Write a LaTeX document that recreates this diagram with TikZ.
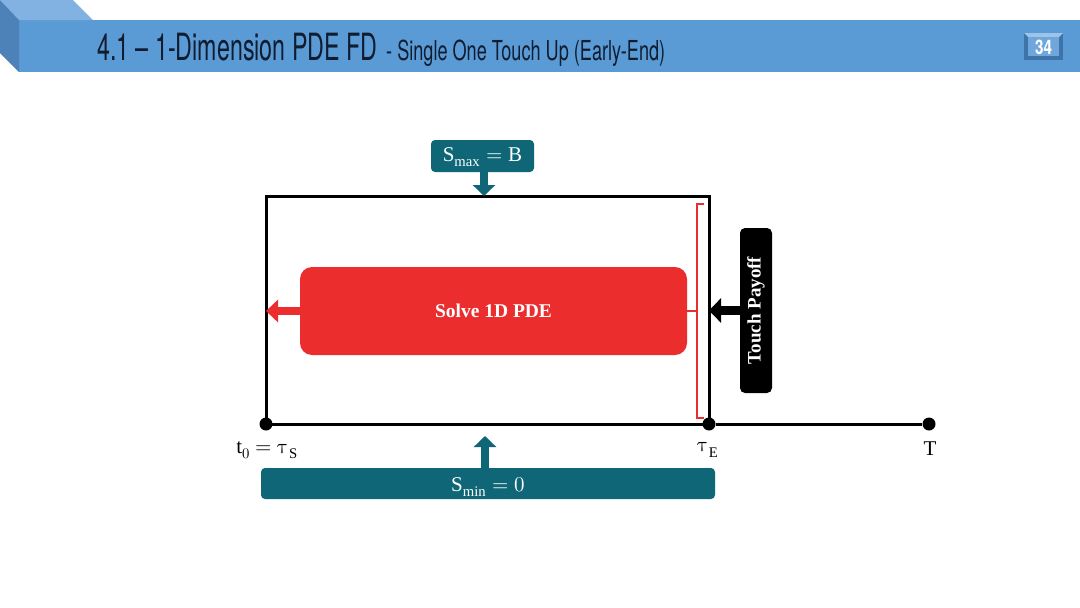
\documentclass[tikz,border=0pt]{standalone}
\usepackage{fontspec}
\usepackage{unicode-math}
\usepackage{graphicx}
\setmainfont{Liberation Serif}
\setmathfont{Latin Modern Math}
\newfontfamily\titlefont{TeX Gyre Heros}
\usetikzlibrary{arrows.meta}
\definecolor{bandfront}{HTML}{5B9BD5}
\definecolor{bandtop}{HTML}{82B2E2}
\definecolor{bandside}{HTML}{4C82B8}
\definecolor{titlecol}{HTML}{101C30}
\definecolor{pgdark}{HTML}{3F74A8}
\definecolor{pglight}{HTML}{9CC4EA}
\definecolor{pgface}{HTML}{6FA6DC}
\definecolor{tealc}{HTML}{0E6676}
\definecolor{redc}{HTML}{EC2D2D}
\tikzset{
  sbox/.style={fill=tealc, rounded corners=4pt, text=white, inner sep=0pt,
    font=\fontsize{21}{25}\selectfont},
  tealarrow/.style={draw=tealc, line width=8pt, -{Triangle[width=22pt,length=11pt]}},
  redarrow/.style={draw=redc, line width=8pt, -{Triangle[width=22pt,length=12pt]}},
  blkarrow/.style={draw=black, line width=9pt, -{Triangle[width=24pt,length=12pt]}},
  tdot/.style={circle, fill=black, inner sep=0pt, minimum size=13pt},
  tlabel/.style={inner sep=0pt, font=\fontsize{21}{25}\selectfont},
  bracketline/.style={draw=redc, line width=2.6pt},
}
\begin{document}
\begin{tikzpicture}[x=1pt,y=-1pt]
\useasboundingbox (0,0) rectangle (1080,608);
\fill[white] (0,0) rectangle (1080,608);
% header band
\fill[bandfront] (19,20) rectangle (1080,72);
\fill[bandtop] (0,0) -- (73,0) -- (93,20) -- (19,20) -- cycle;
\fill[bandside] (0,0) -- (19,20) -- (19,72) -- (0,53) -- cycle;
\node[anchor=base west, text=titlecol, inner sep=0pt] (title) at (97,60)
  {\resizebox{280pt}{\height}{\titlefont\fontsize{37.5}{38}\selectfont 4.1 – 1-Dimension PDE FD}};
\node[anchor=base west, text=titlecol, inner sep=0pt] (subtitle) at (386,60)
  {\resizebox{279pt}{\height}{\titlefont\fontsize{27.5}{28}\selectfont - Single One Touch Up (Early-End)}};
% page number
\fill[pgdark] (1024,33) rectangle (1063,60);
\fill[pglight] (1024,33) -- (1063,33) -- (1059,37) -- (1028,37) -- cycle;
\fill[pgface] (1028,37) rectangle (1059,56);
\node[text=white, inner sep=0pt, font=\titlefont\bfseries\fontsize{20}{20}\selectfont] (pnum) at (1043.5,47)
  {\resizebox{17pt}{\height}{34}};
% frame
\node[draw=black, line width=3pt, minimum width=443pt, minimum height=228pt,
  inner sep=0pt, outer sep=0pt] (frame) at (487.5,310) {};
% time axis
\node[tdot] (t0) at (266,424) {};
\node[tdot] (tE) at (709,424) {};
\node[tdot] (tT) at (929,424) {};
\draw[line width=3pt] (t0) -- (tE) -- (tT);
\node[tlabel] (t0lab) at (267,450) {$\mathrm{t}_0=\symup{\tau}_{\mathrm{S}}$};
\node[tlabel] (tElab) at (708,450) {$\symup{\tau}_{\mathrm{E}}$};
\node[tlabel] (tTlab) at (930,449) {$\mathrm{T}$};
% S max / S min
\node[sbox, minimum width=103pt, minimum height=32pt] (smax) at (482.5,156)
  {\raisebox{-1.5pt}[\height][\depth]{$\mathrm{S}_{\mathrm{max}}=\mathrm{B}$}};
\node[sbox, minimum width=454pt, minimum height=31pt] (smin) at (488,483.5)
  {\raisebox{-3.5pt}[\height][\depth]{$\mathrm{S}_{\mathrm{min}}=0$}};
\draw[tealarrow] ([xshift=1.5pt]smax.south) -- ([xshift=1.5pt]smax.south |- frame.north);
\coordinate (sminarr) at (485,436);
\draw[tealarrow] (smin.north -| sminarr) -- (sminarr);
% solve box
\node[fill=redc, rounded corners=12pt, minimum width=387pt, minimum height=88pt,
  text=white, font=\bfseries\fontsize{19.5}{22}\selectfont] (solve) at (493.5,311) {Solve 1D PDE};
\draw[redarrow] (solve.west) -- (solve.west -| frame.west);
% bracket
\coordinate (brk) at (697,311);
\draw[bracketline] (704,204) -- (697,204) -- (697,418) -- (704,418);
\draw[bracketline] (solve.east) -- (brk);
% touch payoff
\node[fill=black, rounded corners=5pt, minimum width=32pt, minimum height=165pt,
  inner sep=0pt, text=white, font=\bfseries\fontsize{19}{22}\selectfont] (touch) at (756,310.5)
  {\rotatebox{90}{Touch Payoff}};
\draw[blkarrow] (touch.west) -- (touch.west -| frame.east);
\end{tikzpicture}
\end{document}
